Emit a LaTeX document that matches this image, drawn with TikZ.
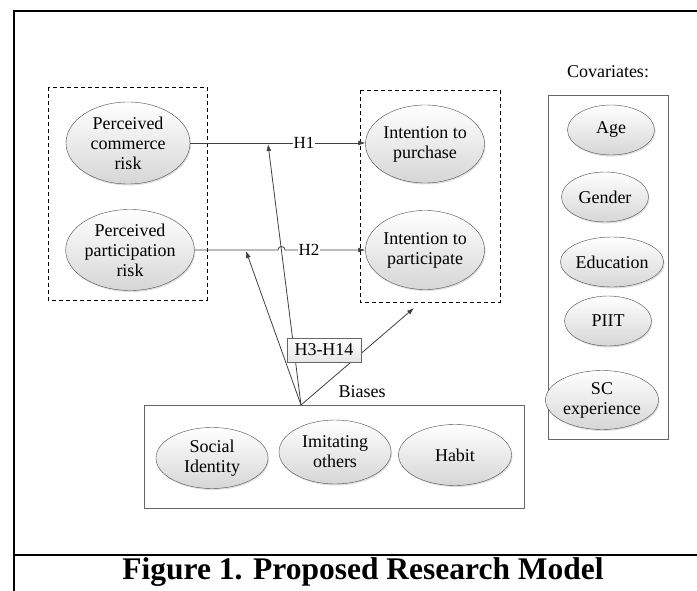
\documentclass[tikz,border=0pt]{standalone}
\usepackage{fontspec}
\setmainfont{Liberation Serif}
\usetikzlibrary{shapes.geometric,arrows.meta,shadows}

\tikzset{
  elipse/.style={ellipse, draw=black!70, top color=white, bottom color=black!16,
    inner sep=0pt, align=center, font=\fontsize{18}{20}\selectfont,
    drop shadow={opacity=0.25, shadow xshift=1pt, shadow yshift=-1.5pt}},
  flecha/.style={draw=black!75, line width=0.8pt, -{Latex[length=7pt,width=5pt]}},
  caja/.style={draw=black!60, line width=0.8pt},
  cajapunteada/.style={draw=black, line width=0.8pt, dash pattern=on 4pt off 3pt},
  etiqueta/.style={font=\fontsize{17}{19}\selectfont, fill=white, inner sep=1pt},
  texto/.style={font=\fontsize{18}{20}\selectfont},
}

\begin{document}
\begin{tikzpicture}[x=1pt,y=-1pt]
		\useasboundingbox (0,0) rectangle (697,591);
		
		% Marco
		\draw[line width=2.5pt] (697,11) -- (14,11) -- (14,591);
		\draw[line width=2.5pt] (14,555) -- (697,555);
		\node[font=\fontsize{31.5}{33}\selectfont\bfseries] (titulo) at (363,572) {Figure 1. Proposed Research Model};
		
		% Riesgos percibidos
		\draw[cajapunteada] (48,87) rectangle (207,300);
		\node[elipse, minimum width=124pt, minimum height=82pt] (pcr) at (128,143) {Perceived\\commerce\\risk};
		\node[elipse, minimum width=124pt, minimum height=81pt] (ppr) at (130,250) {Perceived\\participation\\risk};
		
		% Intenciones
		\draw[cajapunteada] (360,90) rectangle (500,302);
		\node[elipse, minimum width=119pt, minimum height=78pt] (ipu) at (425,144) {Intention to\\purchase};
		\node[elipse, minimum width=119pt, minimum height=79pt] (ipa) at (425,250) {Intention to\\participate};
		
		% H1 y H2
		\draw[flecha] (pcr.east) -- (pcr.east -| ipu.west) node[etiqueta, pos=0.65] (h1) {H1};
		\coordinate (salto) at (278,250);
		\draw[flecha] (ppr.east) -- (salto) arc[start angle=180, end angle=0, radius=3.5pt] -- (ppr.east -| ipa.west) node[etiqueta, pos=0.3] (h2) {H2};
		
		% Sesgos
		\node[caja, minimum width=380pt, minimum height=103pt] (sesgos) at (334,456.5) {};
		\node[texto] (tsesgos) at (362,392) {Biases};
		\node[elipse, minimum width=112pt, minimum height=61pt] (si) at (212,458) {Social\\Identity};
		\node[elipse, minimum width=112pt, minimum height=64pt] (io) at (335,452) {Imitating\\others};
		\node[elipse, minimum width=113pt, minimum height=61pt] (hab) at (455,455) {Habit};
		
		% Moderaciones H3-H14
		\coordinate (origen) at (301,405);
		\coordinate (enh1) at (268,144);
		\coordinate (enh2) at (246,251);
		\coordinate (enint) at (414,308);
		\draw[flecha] (origen) -- (enh1);
		\draw[flecha] (origen) -- (enh2);
		\draw[flecha] (origen) -- (enint);
		\node[draw=black!60, top color=white, bottom color=black!10, texto, inner sep=2pt, minimum width=74pt, minimum height=24pt] (hip) at (324,350) {H3-H14};
		
		% Covariables
		\node[texto] (tcov) at (608,72) {Covariates:};
		\node[caja, minimum width=120pt, minimum height=344pt] (cov) at (608,267) {};
		\foreach \x/\y/\t/\w/\h/\n in {611/130/Age/87/50/c1, 605/197/Gender/87/50/c2, 612/262/Education/88/50/c3, 608/321/PIIT/87/50/c4, 602/400/{SC\\experience}/113/59/c5} {
			\node[elipse, minimum width=\w pt, minimum height=\h pt] (\n) at (\x,\y) {\t};
		}
		
\end{tikzpicture}
\end{document}
